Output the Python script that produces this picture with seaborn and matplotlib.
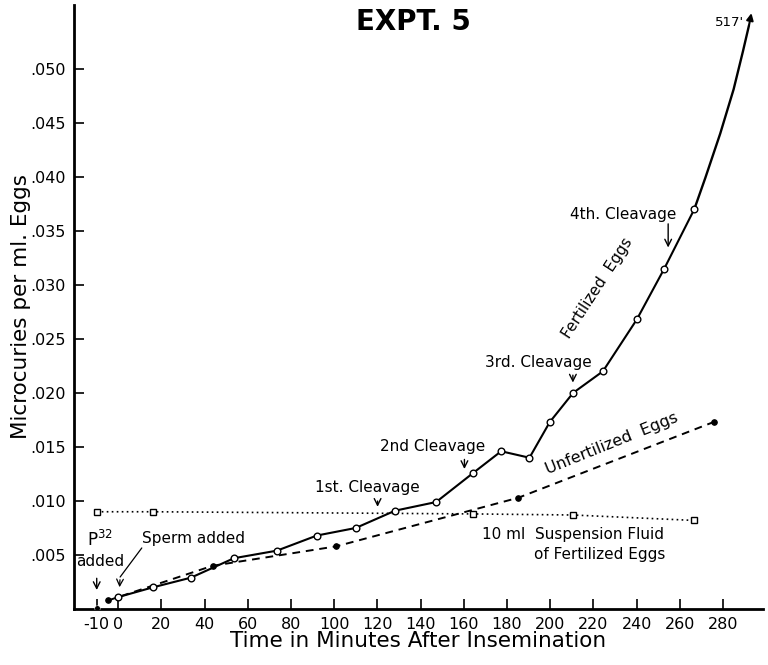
import matplotlib
matplotlib.use("Agg")
import matplotlib.pyplot as plt
import seaborn as sns
import pandas as pd

# ---- data ----
fert_t = [0, 16, 33.7, 53.6, 73.5, 92, 110, 128.2, 147.2, 164.4, 177.3, 190.4, 199.8, 210.6, 224.4, 240.1, 252.8, 266.7]
fert_y = [0.0011, 0.0020, 0.0029, 0.0047, 0.0054, 0.0068, 0.0075, 0.0091, 0.0099, 0.0126, 0.0146, 0.0140, 0.0173, 0.0200, 0.0220, 0.0268, 0.0315, 0.0370]
tail_t = [266.7, 271.8, 278.7, 284.9, 289.2, 292.0]
tail_y = [0.0370, 0.0399, 0.0440, 0.0481, 0.0516, 0.0540]
unf_t = [-4.5, 0, 43.7, 101, 185.3, 275.6]
unf_y = [0.0008, 0.0011, 0.0040, 0.0058, 0.0103, 0.0173]
p32_t = [-10]
p32_y = [0.0001]
fluid_t = [-9.9, 16.1, 164.2, 210.5, 266.4]
fluid_y = [0.0090, 0.0090, 0.0088, 0.0087, 0.0082]
xticks = [-10, 0, 20, 40, 60, 80, 100, 120, 140, 160, 180, 200, 220, 240, 260, 280]
yticks = [0.005, 0.010, 0.015, 0.020, 0.025, 0.030, 0.035, 0.040, 0.045, 0.050]
ytick_labels = [".005", ".010", ".015", ".020", ".025", ".030", ".035", ".040", ".045", ".050"]

sns.set_theme(style="ticks")
plt.rcParams['font.family'] = ['DejaVu Sans']
plt.rcParams['text.color'] = 'black'
plt.rcParams['axes.labelcolor'] = 'black'
plt.rcParams['xtick.color'] = 'black'
plt.rcParams['ytick.color'] = 'black'

fig = plt.figure(figsize=(7.68, 6.65), dpi=100)
ax = fig.add_axes([0.0964, 0.0842, 0.8971, 0.9083])

fert = pd.DataFrame({"t": fert_t, "y": fert_y})
tail = pd.DataFrame({"t": tail_t, "y": tail_y})
unf = pd.DataFrame({"t": unf_t, "y": unf_y})
fluid = pd.DataFrame({"t": fluid_t, "y": fluid_y})
p32 = pd.DataFrame({"t": p32_t, "y": p32_y})

sns.lineplot(data=fluid, x="t", y="y", ax=ax, color="black", linestyle=(0, (1, 2)), linewidth=1.2,
             marker="s", markersize=4, markerfacecolor="white", markeredgecolor="black", markeredgewidth=1.0)
sns.lineplot(data=unf, x="t", y="y", ax=ax, color="black", linestyle=(0, (4, 3)), linewidth=1.4,
             marker="o", markersize=4, markerfacecolor="black", markeredgecolor="black")
sns.lineplot(data=tail, x="t", y="y", ax=ax, color="black", linewidth=1.7)
sns.lineplot(data=fert, x="t", y="y", ax=ax, color="black", linewidth=1.5,
             marker="o", markersize=4.8, markerfacecolor="white", markeredgecolor="black", markeredgewidth=1.0)
sns.scatterplot(data=p32, x="t", y="y", ax=ax, color="black", s=16, zorder=5)

ax.annotate("", xy=(293.4, 0.0554), xytext=(291.8, 0.0538),
            arrowprops=dict(arrowstyle="-|>", color="black", lw=1.5, mutation_scale=10))

ax.set_xlim(-20.4, 298.5)
ax.set_ylim(0, 0.0559)
ax.set_xticks(xticks)
ax.set_xticklabels([str(t) for t in xticks], fontsize=11.5)
ax.set_yticks(yticks)
ax.set_yticklabels(ytick_labels, fontsize=11.5)
ax.tick_params(direction="in", length=7, width=1.2, colors="black", pad=6)
for s in ["top", "right"]:
    ax.spines[s].set_visible(False)
for s in ["left", "bottom"]:
    ax.spines[s].set_linewidth(2)
    ax.spines[s].set_color("black")

ax.set_xlabel("Time in Minutes After Insemination", fontsize=15.5, labelpad=-1)
ax.set_ylabel("Microcuries per ml. Eggs", fontsize=15.5, labelpad=-1)

fig.text(0.538, 0.967, "EXPT. 5", ha="center", va="center", fontsize=20, fontweight="bold")

fs = 11
ax.text(282.9, 0.0543, "517'", fontsize=9.5, ha="center", va="center")
ax.text(233.8, 0.0365, "4th. Cleavage", fontsize=fs, ha="center", va="center")
ax.annotate("", xy=(254.6, 0.0332), xytext=(254.6, 0.0359),
            arrowprops=dict(arrowstyle="->", color="black", lw=1))
ax.text(222, 0.0297, "Fertilized  Eggs", fontsize=fs, ha="center", va="center", rotation=57)
ax.text(194.4, 0.0228, "3rd. Cleavage", fontsize=fs, ha="center", va="center")
ax.annotate("", xy=(210.5, 0.0207), xytext=(210.5, 0.0219),
            arrowprops=dict(arrowstyle="->", color="black", lw=1))
ax.text(145.4, 0.0150, "2nd Cleavage", fontsize=fs, ha="center", va="center")
ax.annotate("", xy=(160.3, 0.0127), xytext=(160.3, 0.0141),
            arrowprops=dict(arrowstyle="->", color="black", lw=1))
ax.text(115.6, 0.0112, "1st. Cleavage", fontsize=fs, ha="center", va="center")
ax.annotate("", xy=(120.1, 0.0092), xytext=(120.1, 0.01025),
            arrowprops=dict(arrowstyle="->", color="black", lw=1))
ax.text(228.5, 0.0153, "Unfertilized  Eggs", fontsize=fs + 0.5, ha="center", va="center", rotation=22)
ax.text(210.4, 0.00685, "10 ml  Suspension Fluid", fontsize=fs, ha="center", va="center")
ax.text(222.7, 0.00509, "of Fertilized Eggs", fontsize=fs, ha="center", va="center")
ax.text(34.9, 0.00655, "Sperm added", fontsize=fs, ha="center", va="center")
ax.plot([10.96, 0.93], [0.00565, 0.00296], color="black", lw=0.9)
ax.annotate("", xy=(0.6, 0.00176), xytext=(0.93, 0.00296),
            arrowprops=dict(arrowstyle="->", color="black", lw=0.9))
ax.text(-8.3, 0.0064, "P$^{32}$", fontsize=fs + 1, ha="center", va="center")
ax.text(-8.3, 0.00438, "added", fontsize=fs, ha="center", va="center")
ax.annotate("", xy=(-9.9, 0.0015), xytext=(-9.9, 0.0031),
            arrowprops=dict(arrowstyle="->", color="black", lw=1))

fig.savefig("out.png", dpi=100)
